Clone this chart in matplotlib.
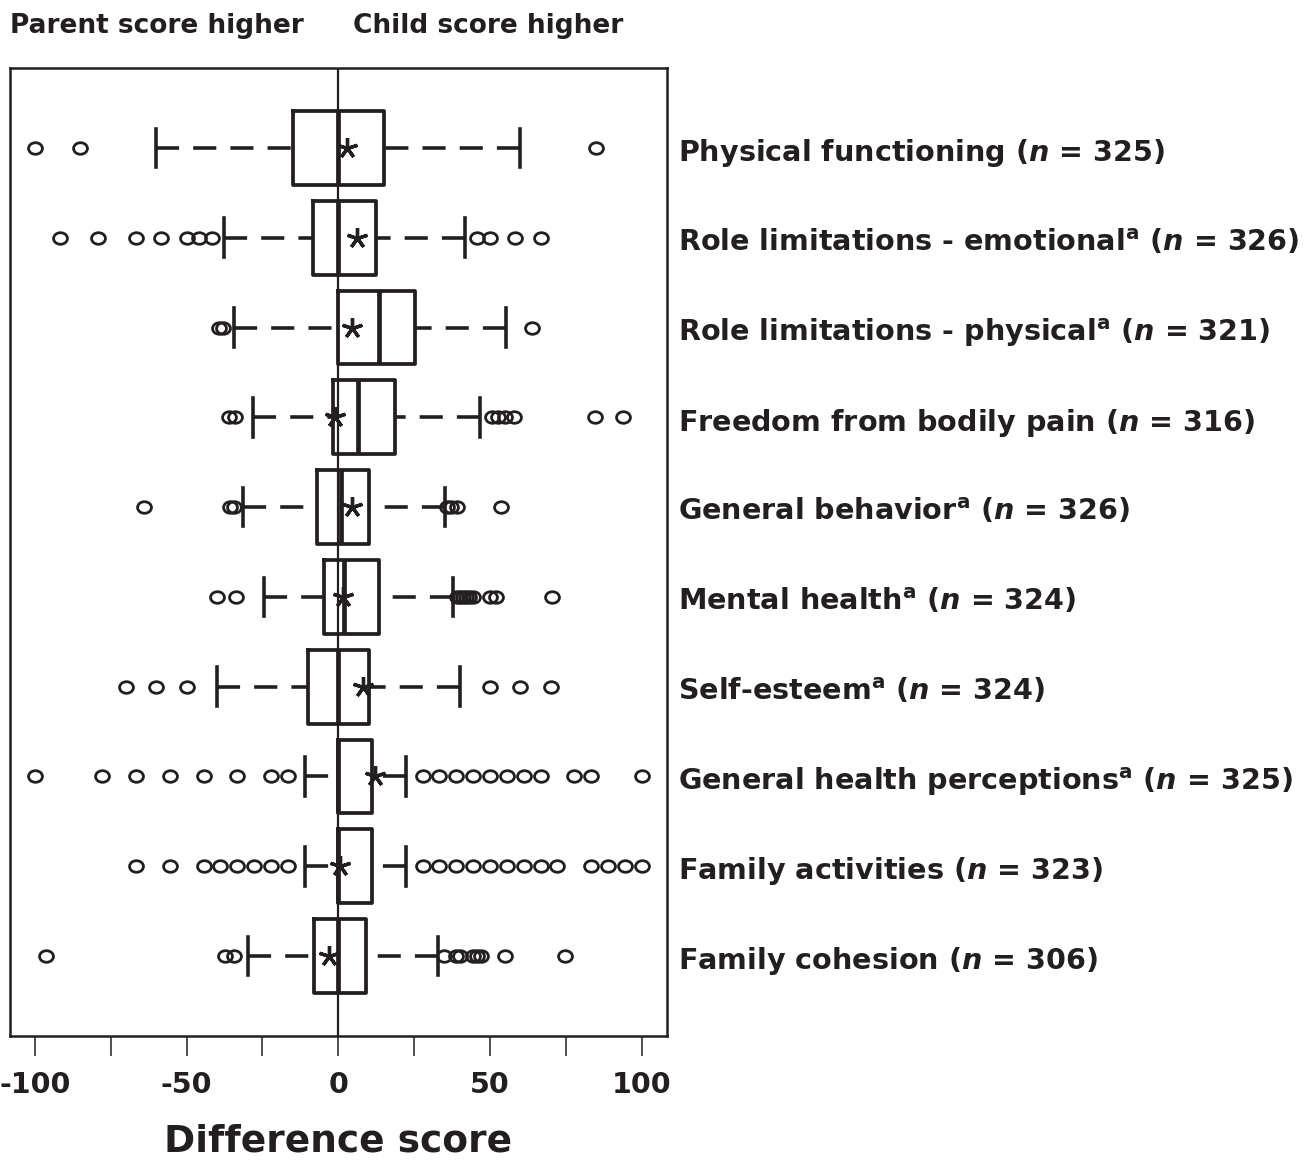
import numpy as np
import matplotlib
matplotlib.use('Agg')
import matplotlib.pyplot as plt
from matplotlib.path import Path
from matplotlib.transforms import Affine2D, ScaledTranslation, blended_transform_factory

plt.rcParams['font.family'] = 'DejaVu Sans'
plt.rcParams['font.weight'] = 'bold'
plt.rcParams['mathtext.fontset'] = 'custom'
plt.rcParams['mathtext.rm'] = 'DejaVu Sans:bold'
plt.rcParams['mathtext.it'] = 'DejaVu Sans:italic:bold'
plt.rcParams['mathtext.bf'] = 'DejaVu Sans:bold'

# Scales (top to bottom) and sample sizes
scales = ['Physical functioning', 'Role limitations - emotional', 'Role limitations - physical',
          'Freedom from bodily pain', 'General behavior', 'Mental health', 'Self-esteem',
          'General health perceptions', 'Family activities', 'Family cohesion']
n_obs = [325, 326, 321, 316, 326, 324, 324, 325, 323, 306]
footnote_a = [False, True, True, False, True, True, True, True, False, False]

# Box plot summaries (difference score = child - parent)
whislo = [-60, -37.5, -34.5, -28.2, -31.3, -24.4, -40, -11.1, -11.1, -29.8]
q1 = [-15, -8.3, 0, -1.7, -6.9, -4.8, -10, 0, 0, -8]
med = [0, 0, 13.5, 6.5, 0.8, 2, 0, 0, 0, 0]
q3 = [15, 12.5, 25.4, 18.7, 10.2, 13.5, 10, 11.1, 11.1, 9.3]
whishi = [60, 41.7, 55.2, 46.7, 35.1, 37.8, 40, 22.2, 22.2, 32.8]
means = [3, 6.2, 4.4, -1.1, 4.5, 1.5, 8.3, 12.1, 0.5, -3.1]
fliers = [
    [-100, -85, 85],
    [-91.7, -79.2, -66.7, -58.3, -50, -45.8, -41.7, 45.8, 50, 58.3, 66.7],
    [-39.3, -38, 64],
    [-36, -34, 50.7, 52.8, 54.9, 58, 84.6, 93.9],
    [-64.1, -35.6, -34.2, 36, 37.3, 39, 53.6],
    [-40.1, -33.8, 39, 40, 41, 42, 43, 44.4, 50, 52, 70.3],
    [-70, -60, -50, 50, 60, 70],
    [-100, -77.8, -66.7, -55.6, -44.4, -33.3, -22.2, -16.7,
     27.8, 33.3, 38.9, 44.4, 50, 55.6, 61.1, 66.7, 77.8, 83.3, 100],
    [-66.7, -55.6, -44.4, -38.9, -33.3, -27.8, -22.2, -16.7,
     27.8, 33.3, 38.9, 44.4, 50, 55.6, 61.1, 66.7, 72.2, 83.3, 88.9, 94.4, 100],
    [-96.4, -37.3, -34.2, 34.8, 38.7, 40.1, 44.4, 45.8, 47.2, 54.9, 74.9],
]

ink = '#231f20'
positions = np.arange(1, len(scales) + 1)

stats = []
for i in range(len(scales)):
    stats.append(dict(whislo=whislo[i], q1=q1[i], med=med[i], q3=q3[i], whishi=whishi[i],
                      mean=means[i], fliers=np.array(fliers[i])))

fig = plt.figure(figsize=(13.16, 11.62), dpi=100)
ax = fig.add_axes([10 / 1316, 126 / 1162, 656.5 / 1316, 968 / 1162])

ax.axvline(0, color=ink, lw=1.6, zorder=1)

oval = Path.unit_circle().transformed(Affine2D().scale(1.2, 1.0))
parts = ax.bxp(stats, positions=positions, widths=0.82, capwidths=0.43,
               orientation='horizontal', showmeans=True, manage_ticks=False,
               boxprops=dict(color=ink, lw=2.7),
               whiskerprops=dict(color=ink, lw=2.6, linestyle=(0, (6.4, 3.9))),
               capprops=dict(color=ink, lw=2.6),
               medianprops=dict(color=ink, lw=3.4),
               meanprops=dict(marker=(5, 2, 0), markersize=15, markeredgecolor=ink,
                              markeredgewidth=2.4, markerfacecolor='none'),
               flierprops=dict(marker=oval, markersize=10, markeredgecolor=ink,
                               markerfacecolor='none', markeredgewidth=2.0))
# dashes start at the cap, as in the original
for ln in parts['whiskers']:
    x, y = ln.get_data()
    ln.set_data(x[::-1], y[::-1])

ax.set_xlim(-108.2, 108.2)
ax.set_ylim(10.89, 0.11)
ax.set_yticks([])
ax.set_xticks([-100, -50, 0, 50, 100])
ax.set_xticklabels(['-100', '-50', '0', '50', '100'])
ax.set_xticks([-75, -25, 25, 75], minor=True)
ax.tick_params(axis='x', which='both', length=14.4, width=1.1, color=ink, direction='out')
ax.tick_params(axis='x', which='major', labelsize=20.5, labelcolor=ink, pad=11)
for sp in ax.spines.values():
    sp.set_linewidth(1.8)
    sp.set_color(ink)

# row labels on the right
trans = blended_transform_factory(ax.transAxes, ax.transData) + \
    ScaledTranslation(0, -9.5 / 72, fig.dpi_scale_trans)
for i, name in enumerate(scales):
    sup = r'$^{\mathrm{a}}$' if footnote_a[i] else ''
    ax.text(1.0175, positions[i], f'{name}{sup} ($n$ = {n_obs[i]})', transform=trans,
            ha='left', va='baseline', fontsize=20.6, fontweight='bold', color=ink,
            clip_on=False)

fig.text(10 / 1316, 1 - 33 / 1162, 'Parent score higher', ha='left', va='baseline',
         fontsize=19, fontweight='bold', color=ink)
fig.text(353 / 1316, 1 - 33 / 1162, 'Child score higher', ha='left', va='baseline',
         fontsize=19, fontweight='bold', color=ink)
fig.text(338 / 1316, 10 / 1162, 'Difference score', ha='center', va='baseline',
         fontsize=27, fontweight='bold', color=ink)

fig.savefig('out.png', dpi=100)
